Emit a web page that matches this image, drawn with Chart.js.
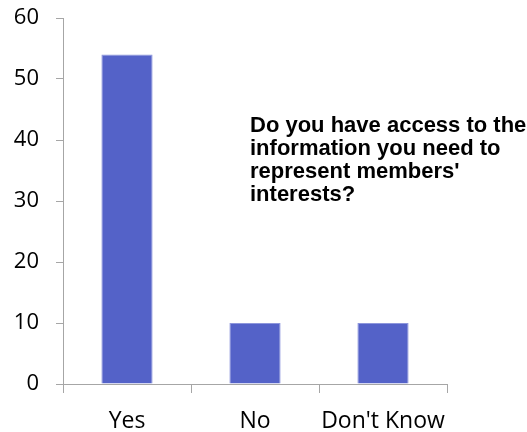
<!DOCTYPE html>
<html>
<head>
<meta charset="utf-8">
<script src="https://cdn.jsdelivr.net/npm/chart.js@4/dist/chart.umd.min.js"></script>
<style>
  html, body { margin: 0; padding: 0; background: #fff; }
  #wrap { width: 527px; height: 432px; }
</style>
</head>
<body>
<div id="wrap"><canvas id="chart"></canvas></div>
<script>
const categories = ['Yes', 'No', "Don't Know"]
const answers = [54, 10, 10]
const yTicks = [0, 10, 20, 30, 40, 50, 60]
const titleLines = ['Do you have access to the', 'information you need to', "represent members'", 'interests?']

// question text sits inside the plot on the right, not as a normal title
const questionText = {
    id: 'questionText',
    afterDraw(chart) {
        let ctx = chart.ctx
        ctx.save()
        ctx.font = 'bold 22px "Liberation Sans", Arial, sans-serif'
        ctx.fillStyle = '#000'
        ctx.textAlign = 'left'
        ctx.textBaseline = 'alphabetic'
        for (let i = 0; i < titleLines.length; ++i) {
            ctx.fillText(titleLines[i], 250, 132 + i * 23)
        }
        ctx.restore()
    }
}

let ctx = document.getElementById('chart').getContext('2d')
let chart = new Chart(ctx, {
    type: 'bar',
    data: {
        labels: categories,
        datasets: [{
            data: answers,
            backgroundColor: '#5462c8',
            borderColor: '#8d96dc',
            borderWidth: 1,
            barPercentage: 0.4,
            categoryPercentage: 1.0
        }]
    },
    options: {
        responsive: true,
        maintainAspectRatio: false,
        animation: false,
        layout: { padding: { top: 18, right: 80, left: 0, bottom: 0 } },
        plugins: {
            legend: { display: false },
            tooltip: { enabled: false }
        },
        scales: {
            x: {
                grid: { offset: true, drawOnChartArea: false, tickLength: 9, color: '#a6a6a6' },
                border: { color: '#a6a6a6' },
                ticks: {
                    color: '#000', padding: 15, maxRotation: 0, minRotation: 0, autoSkip: false,
                    font: { family: '"Open Sans"', size: 23 }
                },
                afterFit: (scale) => {
                    scale.height = 48
                    scale.paddingLeft = 0
                    scale.paddingRight = 0
                }
            },
            y: {
                min: 0,
                max: 60,
                afterBuildTicks: (scale) => { scale.ticks = yTicks.map(v => ({ value: v })) },
                grid: { drawOnChartArea: false, tickLength: 7, color: '#a6a6a6' },
                border: { color: '#a6a6a6' },
                ticks: { color: '#000', padding: 17, font: { family: '"Open Sans"', size: 22 } },
                afterFit: (scale) => {
                    scale.width = 63
                    scale.paddingTop = 0
                    scale.paddingBottom = 0
                }
            }
        }
    },
    plugins: [questionText]
})
</script>
</body>
</html>
